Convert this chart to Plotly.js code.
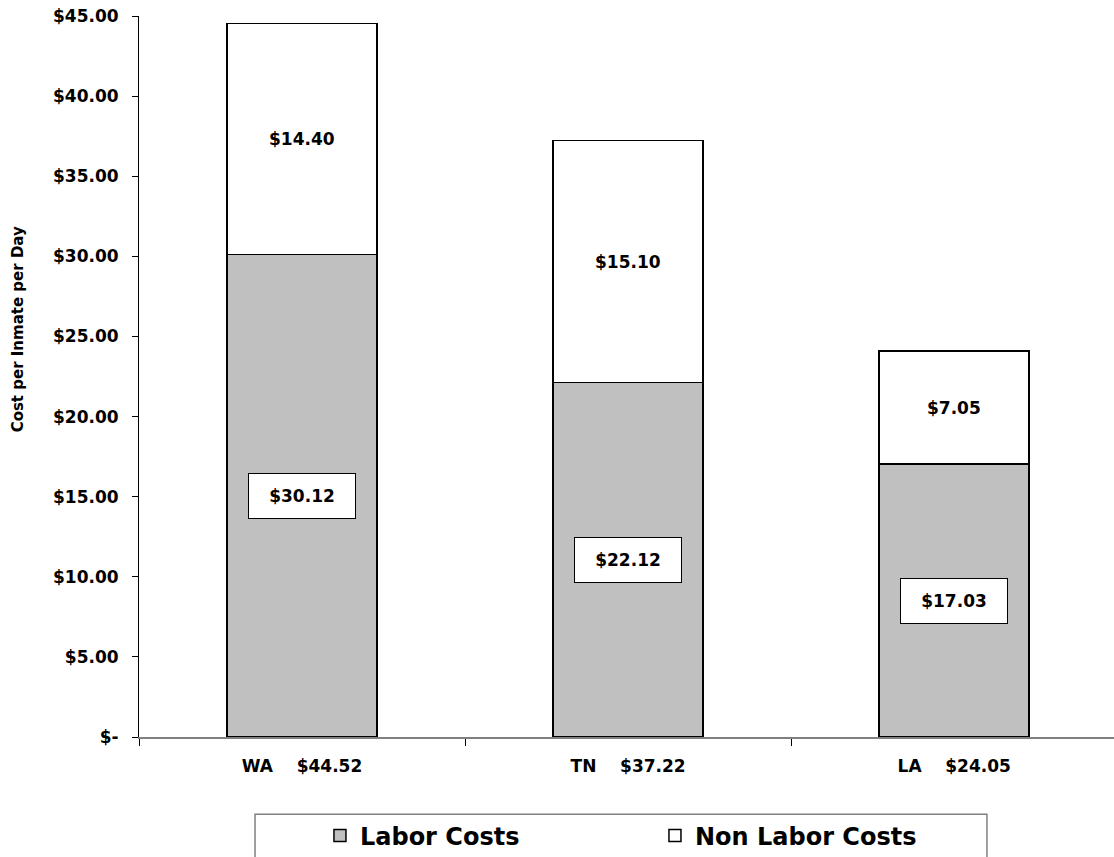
<!DOCTYPE html>
<html><head><meta charset="utf-8">
<script src="https://cdn.plot.ly/plotly-3.0.1.min.js"></script>
<style>html,body{margin:0;padding:0;background:#fff}#chart{width:1114px;height:857px}</style>
</head><body><div id="chart"></div>
<script>
const states = ["WA", "TN", "LA"];
const totalLabels = ["$44.52", "$37.22", "$24.05"];
const laborCosts = [30.12, 22.12, 17.03];
const nonLaborCosts = [14.40, 15.10, 7.05];
const yTickVals = [0, 5, 10, 15, 20, 25, 30, 35, 40, 45];
const yTickText = ["$-", "$5.00", "$10.00", "$15.00", "$20.00", "$25.00", "$30.00", "$35.00", "$40.00", "$45.00"];
const yAxisTitle = "Cost per Inmate per Day";

const FONT = "DejaVu Sans";
const NB = "\u00a0\u00a0\u00a0\u00a0";
const xTickText = states.map((s, i) => s + NB + totalLabels[i]);
const money = v => "$" + v.toFixed(2);

const traces = [
  {type: "bar", name: "Labor Costs", x: states, y: laborCosts, width: 0.46,
   marker: {color: "#C0C0C0", line: {color: "#000", width: 1.5}}, hoverinfo: "none"},
  {type: "bar", name: "Non Labor Costs", x: states, y: nonLaborCosts, width: 0.46,
   marker: {color: "#FFFFFF", line: {color: "#000", width: 1.5}}, hoverinfo: "none"}
];

const annotations = [];
states.forEach((s, i) => {
  annotations.push({x: s, y: laborCosts[i] / 2, xref: "x", yref: "y", text: money(laborCosts[i]),
    showarrow: false, bgcolor: "#FFFFFF", bordercolor: "#000", borderwidth: 1, borderpad: 0,
    width: 106, height: 44, font: {family: FONT, size: 17, color: "#000", weight: "bold"}});
  annotations.push({x: s, y: laborCosts[i] + nonLaborCosts[i] / 2, xref: "x", yref: "y", text: money(nonLaborCosts[i]),
    showarrow: false, font: {family: FONT, size: 17, color: "#000", weight: "bold"}});
});
annotations.push({xref: "paper", yref: "paper", x: -0.124, y: 0.5655, xanchor: "center", yanchor: "middle",
  text: yAxisTitle, textangle: -90, showarrow: false,
  font: {family: FONT, size: 15, color: "#000", weight: "bold"}});

const layout = {
  width: 1114, height: 857,
  margin: {l: 139, r: 0, t: 16, b: 120, autoexpand: false},
  paper_bgcolor: "#fff", plot_bgcolor: "#fff",
  barmode: "stack",
  showlegend: true,
  font: {family: FONT, color: "#000"},
  xaxis: {type: "category", range: [-0.5, 2.49], tickmode: "array", tickvals: states, ticktext: xTickText,
    tickson: "boundaries", ticks: "outside", ticklen: 7, tickcolor: "#000", tickwidth: 1,
    showline: true, linecolor: "#808080", linewidth: 2, showgrid: false, zeroline: false,
    tickfont: {family: FONT, size: 17, color: "#000", weight: "bold"}, ticklabelstandoff: 13,
    automargin: false, fixedrange: true},
  yaxis: {range: [0, 45], tickmode: "array", tickvals: yTickVals, ticktext: yTickText,
    ticks: "outside", ticklen: 6, tickcolor: "#000", tickwidth: 1,
    showline: true, linecolor: "#000", linewidth: 1, showgrid: false, zeroline: false,
    tickfont: {family: FONT, size: 17, color: "#000", weight: "bold"}, ticklabelstandoff: 10,
    automargin: false, fixedrange: true},
  yaxis2: {overlaying: "y", anchor: "x", side: "left", range: [0, 45], tickmode: "array", tickvals: yTickVals,
    ticks: "inside", ticklen: 6, tickcolor: "#000", tickwidth: 1, showticklabels: false,
    showline: false, showgrid: false, zeroline: false, fixedrange: true},
  legend: {orientation: "h", x: 0.1856, y: -0.106, xanchor: "left", yanchor: "top",
    font: {family: FONT, size: 24, color: "#000", weight: "bold"}, bgcolor: "rgba(0,0,0,0)",
    borderwidth: 0, entrywidth: 290, traceorder: "normal"},
  shapes: [{type: "rect", xref: "paper", yref: "paper", x0: 0.119, x1: 0.8697, y0: -0.1072, y1: -0.25,
    line: {color: "#808080", width: 1.5}, fillcolor: "rgba(0,0,0,0)"}],
  annotations: annotations
};

Plotly.newPlot("chart", traces, layout, {displayModeBar: false, staticPlot: true});
</script>
</body></html>
